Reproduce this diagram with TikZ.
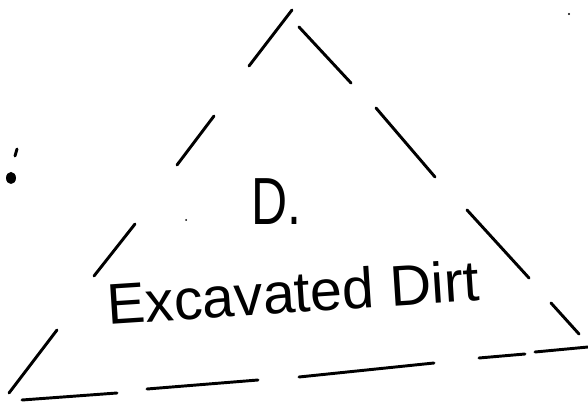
\documentclass[tikz,border=0pt]{standalone}
\usepackage{fontspec}
\setmainfont{Liberation Sans}
\usepackage{tikz}
\usetikzlibrary{calc}
\tikzset{
  dash_seg/.style={line width=2.2pt, line cap=round, black},
  lbl_big/.style={font=\fontsize{50}{56}\selectfont, inner sep=0pt, xscale=0.75},
  lbl_name/.style={font=\fontsize{43}{48}\selectfont, inner sep=0pt, rotate=3.7},
  speck/.style={fill=black, draw=none},
}
\begin{document}
\begin{tikzpicture}[x=0.75pt,y=-0.75pt]
\useasboundingbox[fill=white] (0,0) rectangle (588,402);
% left side
\foreach \xa/\ya/\xb/\yb in {292/10/249/66, 214/116/177/165, 135/224/94/276, 57/330/9/393}
  \draw[dash_seg] (\xa,\ya) -- (\xb,\yb);
% right side
\foreach \xa/\ya/\xb/\yb in {299/27/351/83, 376/108/435/177, 467/210/529/278, 551/303/579/334}
  \draw[dash_seg] (\xa,\ya) -- (\xb,\yb);
% base
\foreach \xa/\ya/\xb/\yb in {22/400/117/393, 147/389/258/380, 299/377/434/363, 479/358/525/354, 535/352/588/347}
  \draw[dash_seg] (\xa,\ya) -- (\xb,\yb);
% labels
\node[lbl_big] (code) at (276,202) {D.};
\node[lbl_name] (name) at (293,292) {Excavated Dirt};
% marks on the sheet
\fill[speck] (11,178) ellipse (5 and 6);
\draw[dash_seg] (17,149) -- (15,156);
\fill[speck] (569,14) circle (1.2);
\fill[speck] (186,220) circle (1);
\end{tikzpicture}
\end{document}
